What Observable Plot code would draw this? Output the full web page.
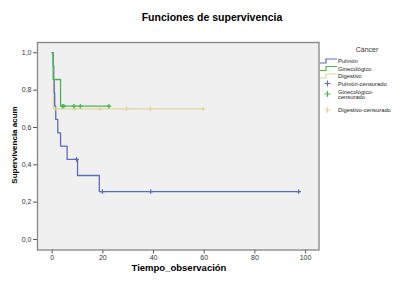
<!DOCTYPE html>
<html><head><meta charset="utf-8">
<script src="https://cdn.jsdelivr.net/npm/d3@7"></script>
<script src="https://cdn.jsdelivr.net/npm/@observablehq/plot@0.6"></script>
<style>
body{margin:0;background:#fff;font-family:Arial,"Liberation Sans",sans-serif;}
#wrap{position:relative;width:419px;height:281px;overflow:hidden;background:#fff}
#chart{position:absolute;left:0;top:0}
.t{position:absolute;white-space:nowrap;color:#000;line-height:1}
</style></head><body>
<div id="wrap">
<div id="chart"></div>
<div class="t" style="left:0;width:424px;top:12px;text-align:center;font-weight:bold;font-size:10.5px;">Funciones de supervivencia</div>
<div class="t" style="left:15px;top:145px;transform:translate(-50%,-50%) rotate(-90deg);font-weight:bold;font-size:8px;">Supervivencia acum</div>
<div class="t" style="left:179px;top:268px;transform:translate(-50%,-50%);font-weight:bold;font-size:9.5px;">Tiempo_observación</div>
<svg id="legend" style="position:absolute;left:315px;top:40px" width="104" height="80"></svg>
</div>
<script>
// Data
const seriesNames = ["Pulmón", "Ginecológico", "Digestivo"];
const legendLabels = ["Pulmón", "Ginecológico", "Digestivo", "Pulmón-censurado", "Ginecológico-\ncensurado", "Digestivo-censurado"];
const pulmonTime = [0, 0.4, 0.6, 0.8, 1.0, 1.4, 2.2, 3.3, 5.9, 10.0, 18.6, 97.3];
const pulmonSurv = [1, 0.929, 0.857, 0.786, 0.714, 0.643, 0.571, 0.5, 0.429, 0.343, 0.257, 0.257];
const pulmonCensTime = [9.6, 19.8, 38.9, 97.3];
const pulmonCensSurv = [0.429, 0.257, 0.257, 0.257];
const ginecoTime = [0, 0.4, 3.3, 22.4];
const ginecoSurv = [1, 0.857, 0.714, 0.714];
const ginecoCensTime = [4.0, 4.6, 8.6, 11.1, 22.4];
const ginecoCensSurv = [0.714, 0.714, 0.714, 0.714, 0.714];
const digestTime = [0, 0.5, 59.6];
const digestSurv = [1, 0.7, 0.7];
const digestCensTime = [1.6, 8.8, 18.9, 29.4, 38.7, 59.6];
const digestCensSurv = [0.7, 0.7, 0.7, 0.7, 0.7, 0.7];
const xTicks = [0, 20, 40, 60, 80, 100];
const yTicks = [0, 0.2, 0.4, 0.6, 0.8, 1.0];

const colors = {"Pulmón": "#5a6cba", "Ginecológico": "#4ab554", "Digestivo": "#ddd69e"};
const zip = (ts, ss, name) => ts.map((t, i) => ({t, s: ss[i], name}));
const curves = [
  zip(digestTime, digestSurv, "Digestivo"),
  zip(pulmonTime, pulmonSurv, "Pulmón"),
  zip(ginecoTime, ginecoSurv, "Ginecológico")
];
const cens = [
  zip(digestCensTime, digestCensSurv, "Digestivo"),
  zip(pulmonCensTime, pulmonCensSurv, "Pulmón"),
  zip(ginecoCensTime, ginecoCensSurv, "Ginecológico")
];

const fmt = d => d.toFixed(1).replace(".", ",");
const marks = [
  Plot.frame({fill: "#f0f0f0", stroke: "none"}),
  Plot.axisX({ticks: xTicks, tickSize: 4, tickPadding: 1, label: null, fontSize: 7, stroke: "#555"}),
  Plot.axisY({ticks: yTicks, tickSize: 4, tickPadding: 2, label: null, fontSize: 7, tickFormat: fmt, stroke: "#555"})
];
curves.forEach(c => marks.push(Plot.line(c, {x: "t", y: "s", curve: "step-after", stroke: colors[c[0].name], strokeWidth: 1.3})));
cens.forEach(c => marks.push(Plot.dot(c, {x: "t", y: "s", symbol: "plus", r: 1.6, stroke: colors[c[0].name], strokeWidth: 1.2})));
marks.push(Plot.frame({stroke: "#858585", strokeWidth: 1.3}));

const plot = Plot.plot({
  width: 419, height: 281,
  marginLeft: 37, marginRight: 100.5, marginTop: 42, marginBottom: 31.5,
  x: {domain: [-5.8, 105.3]},
  y: {domain: [-0.056, 1.055]},
  style: {fontFamily: "Arial, 'Liberation Sans', sans-serif", background: "transparent", color: "#333"},
  marks
});
document.getElementById("chart").appendChild(plot);

// Legend
const lg = d3.select("#legend");
lg.append("text").attr("x", 52).attr("y", 12).attr("text-anchor", "middle")
  .attr("font-size", 7).attr("fill", "#333").text("Cáncer");
const rowY = [21, 28.5, 36, 43.5, 51.5, 70];
const lineColors = [colors["Pulmón"], colors["Ginecológico"], colors["Digestivo"]];
for (let i = 0; i < 3; i++) {
  const y = rowY[i];
  lg.append("path").attr("d", `M5,${y + 2}H11V${y - 2}H22`).attr("fill", "none")
    .attr("stroke", lineColors[i]).attr("stroke-width", 1.2);
}
for (let i = 3; i < 6; i++) {
  const y = i === 4 ? rowY[i] + 2.5 : rowY[i];
  const c = lineColors[i - 3];
  lg.append("path").attr("d", `M12.5,${y - 3}V${y + 3}M9.5,${y}H15.5`).attr("stroke", c).attr("stroke-width", 1.2);
}
legendLabels.forEach((lab, i) => {
  const parts = lab.split("\n");
  const t = lg.append("text").attr("x", 23).attr("y", rowY[i] + 2).attr("font-size", 5.8).attr("fill", "#222");
  parts.forEach((p, j) => t.append("tspan").attr("x", 23).attr("dy", j === 0 ? 0 : 5.5).text(p));
});
</script>
</body></html>
